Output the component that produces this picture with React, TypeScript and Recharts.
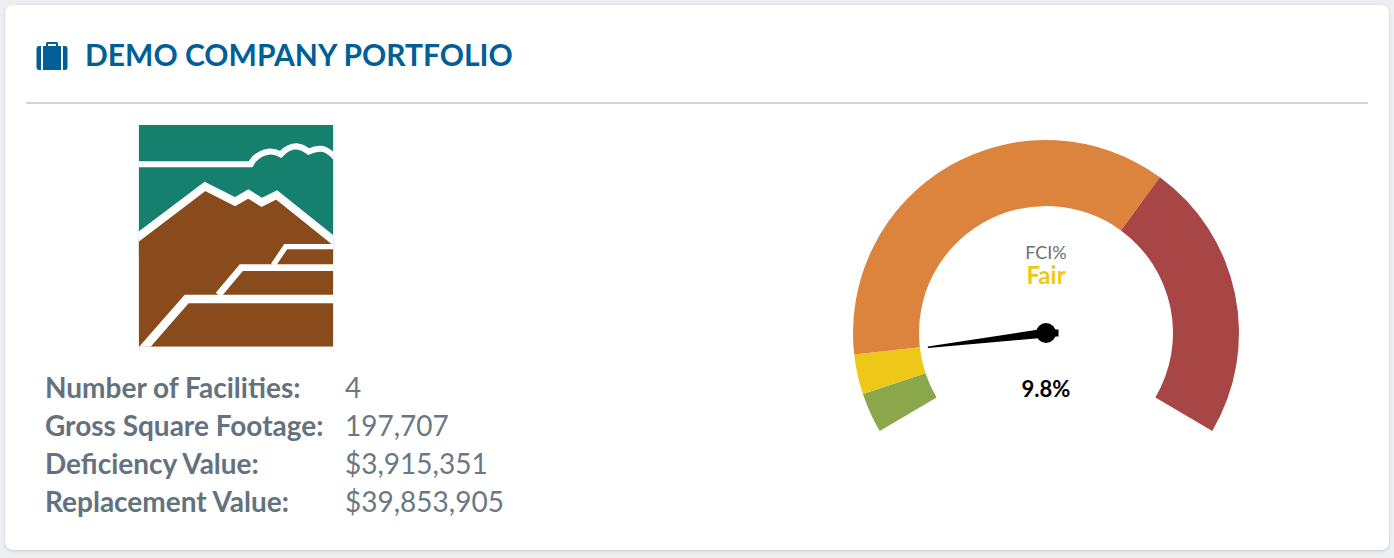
import { Cell, Pie, PieChart } from 'recharts'

const bandNames = ['Good', 'Fair', 'Poor', 'Critical']
const bandValues = [5, 5, 55, 35]
const bandColors = ['#8ba74c', '#edc818', '#dc843d', '#a84545']
const needleValue = 9.8
const scaleMax = 100
const factLabels = ['Number of Facilities:', 'Gross Square Footage:', 'Deficiency Value:', 'Replacement Value:']
const factValues = ['4', '197,707', '$3,915,351', '$39,853,905']

const bandData = bandNames.map((name, i) => ({ name, value: bandValues[i] }))
const needleData = [
  { name: 'fci', value: needleValue },
  { name: 'rest', value: scaleMax - needleValue },
]

const FONT = 'Lato, sans-serif'

// the needle hangs off the end angle of the invisible "fci" slice
function renderNeedle(props: any) {
  if (props.index !== 0) return null
  const { cx, cy, endAngle } = props
  const a = (endAngle * Math.PI) / 180
  const ux = Math.cos(a)
  const uy = -Math.sin(a)
  const px = -uy
  const py = ux
  const tip = 119
  const w = 4.5
  const tw = 0.7
  const pts = [
    [cx + ux * tip + px * tw, cy + uy * tip + py * tw],
    [cx + px * w, cy + py * w],
    [cx - px * w, cy - py * w],
    [cx + ux * tip - px * tw, cy + uy * tip - py * tw],
  ]
    .map((p) => p.join(','))
    .join(' ')
  return (
    <g key="needle">
      <polygon points={pts} fill="#000" />
      <circle cx={cx} cy={cy} r={10} fill="#000" />
      <rect x={cx + 8} y={cy - 3.5} width={4.5} height={7} fill="#000" />
    </g>
  )
}

function Logo() {
  return (
    <svg width={230} height={240} viewBox="0 0 690 720" style={{ position: 'absolute', left: 120, top: 115, filter: 'blur(0.5px)' }}>
      <defs>
        <clipPath id="logoClip">
          <rect x={56} y={30} width={584} height={665} />
        </clipPath>
      </defs>
      <g clipPath="url(#logoClip)" fill="none" stroke="#fff" strokeLinejoin="miter">
        <rect x={56} y={30} width={584} height={400} fill="#16806f" stroke="none" />
        <polygon points="56,372 255,218 345,264 385,241 425,266 470,244 640,376 640,695 56,695" fill="#8a4b1c" stroke="none" />
        <path
          d="M40,148 H392 Q408,116 445,110 Q462,108 482,118 Q505,94 530,94 Q548,96 566,110 Q590,98 610,102 Q630,108 650,132"
          strokeWidth={18}
        />
        <polyline points="40,377 255,214 345,260 385,237 425,262 470,240 650,384" strokeWidth={24} />
        <polyline points="60,712 200,552 650,552" strokeWidth={26} />
        <polyline points="295,540 364,458 650,458" strokeWidth={20} />
        <polyline points="460,450 497,395 650,395" strokeWidth={16} />
      </g>
    </svg>
  )
}

export default function App() {
  return (
    <div style={{ position: 'absolute', left: 0, top: 0, width: 1394, height: 558, background: '#eceef2', overflow: 'hidden', fontFamily: FONT }}>
      <div
        style={{
          position: 'absolute',
          left: 5,
          top: 5,
          width: 1384,
          height: 545,
          background: '#fff',
          borderRadius: 8,
          boxShadow: '0 1px 3px #c4c8cc',
        }}
      />
      <svg width={32} height={28} viewBox="0 0 32 28" style={{ position: 'absolute', left: 36, top: 42 }}>
        <path d="M10 4 V1.5 Q10 0 11.5 0 H20.5 Q22 0 22 1.5 V4 H20 V2 H12 V4 Z" fill="#005f96" />
        <rect x={7} y={4} width={18} height={24} fill="#005f96" />
        <path d="M5 4 V28 H3 Q0.5 28 0.5 25 V7 Q0.5 4 3 4 Z" fill="#005f96" />
        <path d="M27 4 V28 H29 Q31.5 28 31.5 25 V7 Q31.5 4 29 4 Z" fill="#005f96" />
      </svg>
      <div style={{ position: 'absolute', left: 85, top: 36, fontSize: 30, lineHeight: '36px', fontWeight: 700, color: '#005f96', whiteSpace: 'nowrap' }}>
        DEMO COMPANY PORTFOLIO
      </div>
      <div style={{ position: 'absolute', left: 26, top: 102, width: 1342, height: 2, background: '#d2d2d2' }} />
      <Logo />
      {factLabels.map((label, i) => (
        <div key={label}>
          <div style={{ position: 'absolute', left: 45, top: 368 + i * 38, fontSize: 28, lineHeight: '38px', fontWeight: 700, color: '#64727e', whiteSpace: 'nowrap' }}>
            {label}
          </div>
          <div style={{ position: 'absolute', left: 345, top: 368 + i * 38, fontSize: 28, lineHeight: '38px', color: '#6b7883', whiteSpace: 'nowrap' }}>
            {factValues[i]}
          </div>
        </div>
      ))}
      <div style={{ position: 'absolute', left: 836, top: 130 }}>
        <PieChart width={420} height={320} margin={{ top: 0, right: 0, bottom: 0, left: 0 }}>
          <Pie
            data={bandData}
            dataKey="value"
            cx={210}
            cy={203}
            innerRadius={127}
            outerRadius={193}
            startAngle={210.5}
            endAngle={-30.5}
            stroke="none"
            isAnimationActive={false}
          >
            {bandColors.map((c) => (
              <Cell key={c} fill={c} />
            ))}
          </Pie>
          <Pie
            data={needleData}
            dataKey="value"
            cx={210}
            cy={203}
            innerRadius={0}
            outerRadius={1}
            startAngle={210.5}
            endAngle={-30.5}
            fill="none"
            stroke="none"
            label={renderNeedle}
            labelLine={false}
            isAnimationActive={false}
          />
        </PieChart>
      </div>
      <div style={{ position: 'absolute', left: 946, width: 200, top: 243, textAlign: 'center', fontSize: 18, lineHeight: '19px', color: '#707070' }}>FCI%</div>
      <div style={{ position: 'absolute', left: 946, width: 200, top: 263, textAlign: 'center', fontSize: 24, lineHeight: '24px', fontWeight: 700, color: '#edc818' }}>Fair</div>
      <div style={{ position: 'absolute', left: 946, width: 200, top: 376, textAlign: 'center', fontSize: 22, lineHeight: '26px', fontWeight: 700, color: '#000' }}>{needleValue}%</div>
    </div>
  )
}
